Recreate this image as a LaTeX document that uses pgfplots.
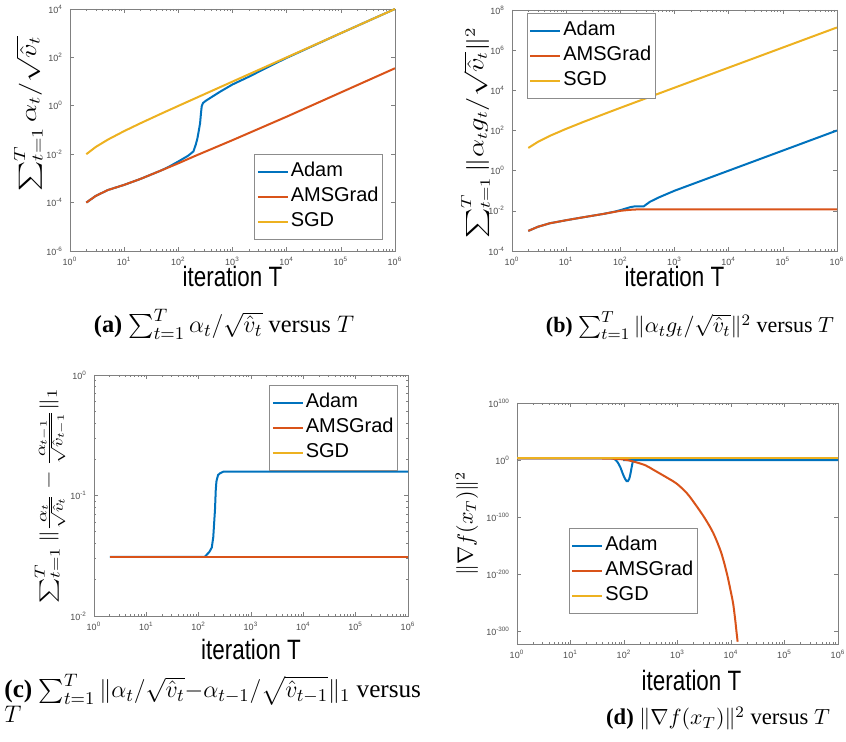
\documentclass[border=0pt]{standalone}
\usepackage{fontspec}
\setmainfont{Liberation Serif}
\setsansfont{Liberation Sans}
\usepackage{amsmath}
\usepackage{graphicx}
\usepackage{pgfplots}
\pgfplotsset{compat=1.18}

\definecolor{adam}{RGB}{0,114,189}
\definecolor{ams}{RGB}{217,83,25}
\definecolor{sgd}{RGB}{237,177,32}

\newcommand{\tl}[1]{10\textsuperscript{#1}}
\newcommand{\xlab}{\scalebox{0.8}[1]{\fontsize{14}{15}\selectfont\sffamily iteration T}}
\newcommand{\ylab}[2]{\scalebox{1}[0.8]{\fontsize{#1}{#1}\selectfont #2}}

\tikzset{
  ad/.style={color=adam, line width=1pt},
  am/.style={color=ams, line width=1pt},
  sg/.style={color=sgd, line width=1pt},
}
\pgfplotsset{
  legend image code/.code={\draw[#1] (0pt,0pt) -- (15pt,0pt);},
  every axis/.append style={
    scale only axis,
    xmin=1, xmax=1e6,
    xtick={1,10,100,1000,1e4,1e5,1e6},
    xticklabels={\tl{0},\tl{1},\tl{2},\tl{3},\tl{4},\tl{5},\tl{6}},
    axis line style={draw=black!50, line width=0.4pt},
    major tick style={draw=black!50, line width=0.3pt},
    minor tick style={draw=black!50, line width=0.3pt},
    major tick length=2pt, minor tick length=1pt,
    tick label style={font=\fontsize{4.5}{5}\selectfont\sffamily, text=black!70},
    xticklabel style={yshift=0.5pt},
    xlabel={\xlab},
    ylabel style={anchor=center},
    legend cell align=left,
    legend style={draw=black!45, line width=0.4pt, inner xsep=1pt, inner ysep=2.5pt,
      font=\fontsize{10}{12.5}\selectfont\sffamily,
      nodes={inner xsep=1pt, inner ysep=1.25pt, text height=7.5pt, text depth=2.5pt}},
  },
}

\begin{document}
\begin{tikzpicture}

% (a)
\begin{loglogaxis}[
  at={(35pt,245.5pt)}, anchor=south west, width=162.5pt, height=121pt,
  ymin=1e-6, ymax=1e4,
  ytick={1e-6,1e-4,1e-2,1,1e2,1e4},
  yticklabels={\tl{-6},\tl{-4},\tl{-2},\tl{0},\tl{2},\tl{4}},
  yminorticks=false,
  xlabel style={at={(axis description cs:0.5,0)}, anchor=base, yshift=-18pt},
  ylabel={\ylab{14}{$\sum_{t=1}^{T}\alpha_t/\sqrt{\hat{v}_t}$}},
  ylabel style={at={(axis description cs:-0.128,0.566)}},
  legend style={at={(0.963,0.401)}, anchor=north east},
]
\addplot[ad] coordinates {
 (2,1e-4) (3,1.9e-4) (5,3.3e-4) (10,5.4e-4) (20,9.5e-4) (50,2.2e-3) (70,3.2e-3)
 (100,5e-3) (150,8.5e-3) (190,1.3e-2) (210,2.5e-2) (225,4.5e-2) (240,0.1)
 (252,0.19) (262,0.5) (270,0.95) (285,1.3) (320,1.6) (400,2.2) (600,3.9)
 (1000,7.6) (2000,15.8) (5000,44.7) (1e4,95.5) (1e5,1000) (1e6,10000)};
\addlegendentry{Adam}
\addplot[am] coordinates {
 (2,1e-4) (3,1.9e-4) (5,3.3e-4) (10,5.4e-4) (20,9.5e-4) (50,2.2e-3) (100,4.2e-3)
 (200,8.3e-3) (1000,3.8e-2) (1e4,0.355) (1e5,3.55) (1e6,35.5)};
\addlegendentry{AMSGrad}
\addplot[sg] coordinates {
 (2,0.01) (3,0.02) (5,0.04) (10,0.09) (20,0.19) (50,0.49) (100,0.99)
 (1000,9.99) (1e4,99.99) (1e5,1000) (1e6,10000)};
\addlegendentry{SGD}
\end{loglogaxis}

% (b)
\begin{loglogaxis}[
  at={(256pt,245.5pt)}, anchor=south west, width=162.5pt, height=120.5pt,
  ymin=1e-4, ymax=1e8,
  ytick={1e-4,1e-2,1,1e2,1e4,1e6,1e8},
  yticklabels={\tl{-4},\tl{-2},\tl{0},\tl{2},\tl{4},\tl{6},\tl{8}},
  yminorticks=false,
  xlabel style={at={(axis description cs:0.5,0)}, anchor=base, yshift=-18pt},
  ylabel={\ylab{13.5}{$\sum_{t=1}^{T}\|\alpha_t g_t/\sqrt{\hat{v}_t}\|^2$}},
  ylabel style={at={(axis description cs:-0.112,0.49)}},
  legend style={at={(0.046,0.988)}, anchor=north west},
]
\addplot[ad] coordinates {
 (2,1e-3) (3,1.6e-3) (5,2.4e-3) (10,3.4e-3) (20,4.7e-3) (50,7.1e-3) (80,9.2e-3)
 (100,1.08e-2) (150,1.5e-2) (180,1.65e-2) (270,1.66e-2) (350,2.8e-2) (500,4.5e-2)
 (1000,0.1) (1e4,1) (1e5,10) (1e6,100)};
\addlegendentry{Adam}
\addplot[am] coordinates {
 (2,1e-3) (3,1.6e-3) (5,2.4e-3) (10,3.4e-3) (20,4.7e-3) (50,7.1e-3) (100,1.0e-2)
 (150,1.12e-2) (200,1.17e-2) (300,1.17e-2) (1e6,1.17e-2)};
\addlegendentry{AMSGrad}
\addplot[sg] coordinates {
 (2,13.5) (3,27) (5,54) (10,121) (20,256) (50,660) (100,1340)
 (1000,1.35e4) (1e4,1.35e5) (1e5,1.35e6) (1e6,1.35e7)};
\addlegendentry{SGD}
\end{loglogaxis}

% (c)
\begin{loglogaxis}[
  at={(47pt,63pt)}, anchor=south west, width=157pt, height=120.5pt,
  ymin=1e-2, ymax=1,
  ytick={1e-2,1e-1,1},
  yticklabels={\tl{-2},\tl{-1},\tl{0}},
  xlabel style={at={(axis description cs:0.5,0)}, anchor=base, yshift=-22pt},
  ylabel={\ylab{13}{$\sum_{t=1}^{T}\|\frac{\alpha_t}{\sqrt{\hat{v}_t}}-\frac{\alpha_{t-1}}{\sqrt{\hat{v}_{t-1}}}\|_1$}},
  ylabel style={at={(axis description cs:-0.140,0.498)}},
  legend style={at={(0.968,0.959)}, anchor=north east},
]
\addplot[sg, forget plot] coordinates {(2,0.0309) (1e6,0.0309)};
\addplot[ad] coordinates {
 (2,0.031) (130,0.031) (143,0.0323) (160,0.034) (178,0.037) (190,0.045) (198,0.06)
 (205,0.076) (212,0.11) (218,0.13) (222,0.135) (235,0.148) (257,0.153) (300,0.158)
 (1e6,0.158)};
\addlegendentry{Adam}
\addplot[am] coordinates {(2,0.031) (1e6,0.031)};
\addlegendentry{AMSGrad}
\addlegendimage{sg}
\addlegendentry{SGD}
\end{loglogaxis}

% (d)
\begin{loglogaxis}[
  at={(258.5pt,49pt)}, anchor=south west, width=160.5pt, height=120.5pt,
  ymin=1e-322, ymax=1e100,
  ytick={1e-300,1e-200,1e-100,1,1e100},
  yticklabels={\tl{-300},\tl{-200},\tl{-100},\tl{0},\tl{100}},
  yminorticks=false,
  xlabel style={at={(axis description cs:0.5,0)}, anchor=base, yshift=-23.5pt, xshift=7pt},
  ylabel={\fontsize{10.5}{13}\selectfont $\|\nabla f(x_T)\|^2$},
  ylabel style={at={(axis description cs:-0.156,0.5)}},
  legend style={at={(0.162,0.481)}, anchor=north west},
]
\addplot[ad, smooth] coordinates {
 (1,1e3) (40,1e3) (58,8e2) (66,1e2) (75,1e-3) (85,1e-12) (95,1e-24) (105,1e-33)
 (112,1e-37) (118,1e-37) (125,1e-33) (132,1e-24) (140,1e-11) (146,1e-3) (152,1)
 (170,1) (1e6,1)};
\addlegendentry{Adam}
\addplot[am, smooth] coordinates {
 (1,1e3) (10,1e3) (30,8e2) (60,3e2) (100,1e1) (150,3e-3) (250,1e-9) (355,1e-17)
 (500,1e-25) (700,1e-33) (960,1e-41) (1500,1e-58) (2290,1e-81) (3300,1e-103)
 (4680,1e-128) (6500,1e-161) (8300,1e-197) (10000,1e-232) (11000,1e-252)
 (12000,1e-280) (12650,1e-300) (13300,1e-318)};
\addlegendentry{AMSGrad}
\addplot[sg] coordinates {(1,1e3) (1e6,1e3)};
\addlegendentry{SGD}
\end{loglogaxis}

% captions
\node[anchor=base, font=\fontsize{12.2}{14}\selectfont] at (112pt,204.5pt)
  {\textbf{(a)} $\sum_{t=1}^{T}\alpha_t/\sqrt{\hat{v}_t}$ versus $T$};
\node[anchor=base, font=\fontsize{11}{13}\selectfont] at (345pt,204.5pt)
  {\textbf{(b)} $\sum_{t=1}^{T}\|\alpha_t g_t/\sqrt{\hat{v}_t}\|^2$ versus $T$};
\node[anchor=base west, inner sep=0pt, font=\fontsize{12.6}{14}\selectfont] at (2pt,22pt)
  {\textbf{(c)} $\sum_{t=1}^{T}\|\alpha_t/\sqrt{\hat{v}_t}{-}\alpha_{t-1}/\sqrt{\hat{v}_{t-1}}\|_1$ versus};
\node[anchor=base west, inner sep=0pt, font=\fontsize{12.6}{14}\selectfont] at (2pt,9.5pt) {$T$};
\node[anchor=base, font=\fontsize{11.3}{13}\selectfont] at (359pt,8.5pt)
  {\textbf{(d)} $\|\nabla f(x_T)\|^2$ versus $T$};

\pgfresetboundingbox
\path (0,0) rectangle (423pt,371pt);
\end{tikzpicture}
\end{document}
